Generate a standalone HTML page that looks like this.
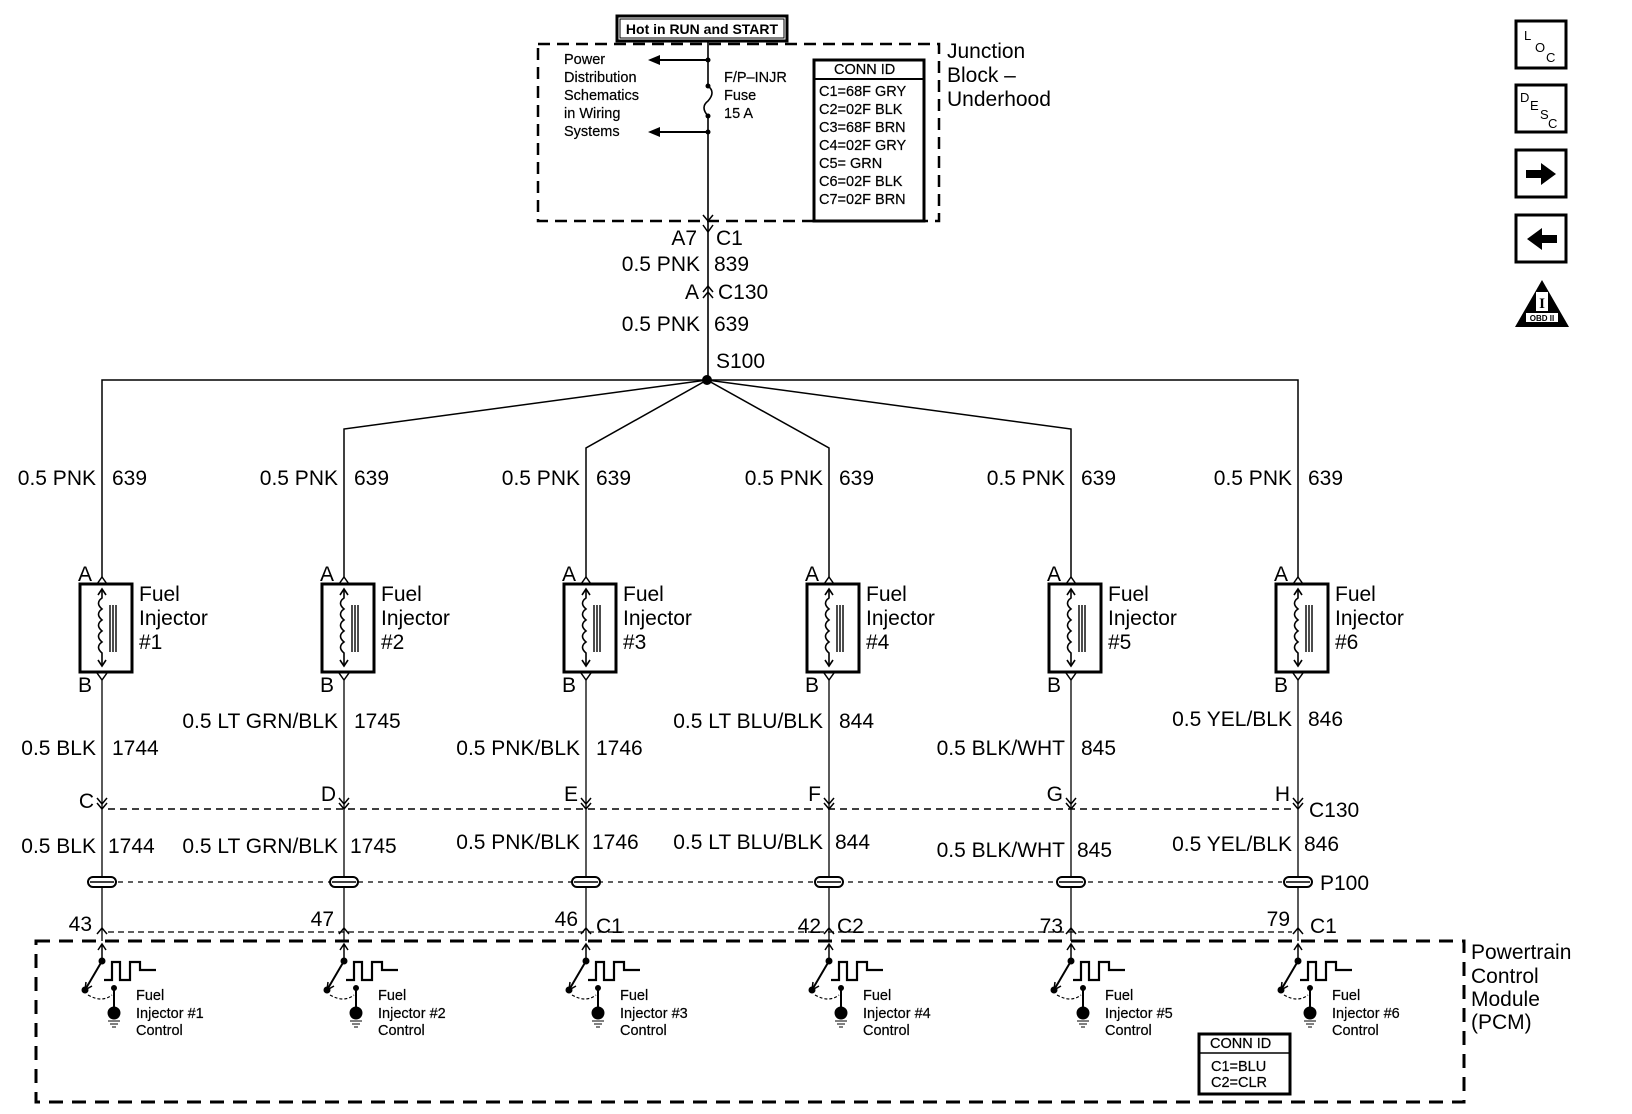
<!DOCTYPE html>
<html><head><meta charset="utf-8"><style>
html,body{margin:0;padding:0;background:#fff;}
svg{display:block;font-family:"Liberation Sans",sans-serif;}
.t{font-size:21px;fill:#000;}
.s{font-size:14.5px;fill:#000;stroke:#000;stroke-width:0.2;}
.m{font-size:21px;fill:#000;}
</style></head><body>
<svg width="1632" height="1114" viewBox="0 0 1632 1114" xmlns="http://www.w3.org/2000/svg">
<defs>
<g id="inj" fill="none" stroke="#000">
<rect x="-22" y="584" width="52" height="88" stroke-width="3"/>
<path d="M0,590 L0,598 q-7,5 0,11 q-7,5 0,11 q-7,5 0,11 q-7,5 0,11 q-7,5 0,11 L0,666" stroke-width="1.6"/>
<path d="M-4,595 L0,589 L4,595 M-4,660 L0,666 L4,660" stroke-width="1.6"/>
<path d="M8,605 V652 M11,605 V652 M14,605 V652" stroke-width="1.4"/>
<path d="M-5,584 L0,577 L5,584 M-5,673 L0,680 L5,673" stroke-width="1.5"/>
<path d="M0,680 V941" stroke-width="1.3"/>
<path d="M-5,798 L0,804 L5,798 M-5,803 L0,809 L5,803" stroke-width="1.5"/>
<rect x="-14" y="877" width="28" height="10" rx="5" fill="#fff" stroke-width="2"/>
<path d="M-12,882 H12" stroke-width="1.5"/>
<path d="M-5,934 L0,928 L5,934" stroke-width="1.5"/>
<path d="M0,944 V960 M-4,950 L0,944 L4,950" stroke-width="1.5"/>
<circle cx="0" cy="961" r="3" fill="#000"/>
<path d="M0,961 L-17,990" stroke-width="2"/>
<path d="M-16,982 L-17,990 L-10,986" stroke-width="1.5"/>
<circle cx="-17" cy="990" r="3" fill="#000"/>
<path d="M-14,995 Q0,1003 10,995" stroke-width="1.2" stroke-dasharray="3,2"/>
<path d="M12,988 V1008" stroke-width="2"/>
<circle cx="12" cy="988" r="2.5" fill="#000"/>
<circle cx="12" cy="1013" r="6" fill="#000"/>
<path d="M6,1021 H18 M8,1024 H16 M10,1027 H14" stroke-width="1"/>
<path d="M2,980 L10,980 L10,962 L18,962 L18,980 L28,980 L28,962 L38,962 L38,970 L54,970" stroke-width="2.2"/>
</g>
</defs>

<!-- top section -->
<rect x="617" y="16" width="170" height="25" fill="none" stroke="#000" stroke-width="3"/>
<rect x="620" y="19" width="164" height="19" fill="none" stroke="#000" stroke-width="1"/>
<text x="702" y="34" font-size="14" text-anchor="middle" font-weight="bold">Hot in RUN and START</text>
<rect x="538" y="44" width="401" height="177" fill="none" stroke="#000" stroke-width="2.5" stroke-dasharray="12,7"/>
<path d="M708,41 V86 M708,116 V232" stroke="#000" stroke-width="1.6" fill="none"/>
<path d="M708,86 q8,6 0,15 q-8,6 0,15" stroke="#000" stroke-width="1.6" fill="none"/>
<circle cx="708" cy="60" r="2.5"/><circle cx="708" cy="86" r="2.5"/><circle cx="708" cy="116" r="2.5"/><circle cx="708" cy="132" r="2.5"/>
<path d="M708,60 H656 M708,132 H656" stroke="#000" stroke-width="2"/>
<path d="M648,60 L660,55 L660,65 Z M648,132 L660,127 L660,137 Z"/>
<text class="s"><tspan x="564" y="64">Power</tspan><tspan x="564" y="82">Distribution</tspan><tspan x="564" y="100">Schematics</tspan><tspan x="564" y="118">in Wiring</tspan><tspan x="564" y="136">Systems</tspan></text>
<text class="s"><tspan x="724" y="82">F/P–INJR</tspan><tspan x="724" y="100">Fuse</tspan><tspan x="724" y="118">15 A</tspan></text>
<rect x="814" y="60" width="110" height="161" fill="none" stroke="#000" stroke-width="3"/>
<path d="M814,79 H924" stroke="#000" stroke-width="2"/>
<text class="s"><tspan x="834" y="74">CONN ID</tspan><tspan x="819" y="96">C1=68F GRY</tspan><tspan x="819" y="114">C2=02F BLK</tspan><tspan x="819" y="132">C3=68F BRN</tspan><tspan x="819" y="150">C4=02F GRY</tspan><tspan x="819" y="168">C5=    GRN</tspan><tspan x="819" y="186">C6=02F BLK</tspan><tspan x="819" y="204">C7=02F BRN</tspan></text>
<text class="m"><tspan x="947" y="58">Junction</tspan><tspan x="947" y="82">Block –</tspan><tspan x="947" y="106">Underhood</tspan></text>
<path d="M703,215 L708,221 L713,215 M703,225 L708,232 L713,225" stroke="#000" stroke-width="1.5" fill="none"/>
<path d="M708,232 V381" stroke="#000" stroke-width="1.6"/>
<path d="M703,292 L708,286 L713,292 M703,298 L708,292 L713,298" stroke="#000" stroke-width="1.5" fill="none"/>
<text class="t" x="697" y="245" text-anchor="end">A7</text><text class="t" x="716" y="245">C1</text>
<text class="t" x="700" y="271" text-anchor="end">0.5 PNK</text><text class="t" x="714" y="271">839</text>
<text class="t" x="699" y="299" text-anchor="end">A</text><text class="t" x="718" y="299">C130</text>
<text class="t" x="700" y="331" text-anchor="end">0.5 PNK</text><text class="t" x="714" y="331">639</text>
<text class="t" x="716" y="368">S100</text>
<circle cx="707" cy="380" r="5"/>

<!-- branches -->
<g stroke="#000" stroke-width="1.5" fill="none">
<path d="M102,577 V380 H1298 V577"/>
<path d="M707,380 L344,429 V577"/>
<path d="M707,380 L586,448 V577"/>
<path d="M707,380 L829,448 V577"/>
<path d="M707,380 L1071,429 V577"/>
</g>

<!-- dashed connector lines -->
<path d="M108,809 H1292" stroke="#000" stroke-width="1.5" stroke-dasharray="7,5"/>
<path d="M118,882 H1282" stroke="#000" stroke-width="1.2" stroke-dasharray="5,5"/>
<path d="M108,932 H1292" stroke="#000" stroke-width="1.2" stroke-dasharray="6,4"/>
<rect x="36" y="941" width="1428" height="161" fill="none" stroke="#000" stroke-width="3" stroke-dasharray="14,9"/>

<use href="#inj" x="102"/><use href="#inj" x="344"/><use href="#inj" x="586"/>
<use href="#inj" x="829"/><use href="#inj" x="1071"/><use href="#inj" x="1298"/>

<!-- injector labels -->
<g class="t">
<text x="96" y="485" text-anchor="end">0.5 PNK</text><text x="112" y="485">639</text>
<text x="338" y="485" text-anchor="end">0.5 PNK</text><text x="354" y="485">639</text>
<text x="580" y="485" text-anchor="end">0.5 PNK</text><text x="596" y="485">639</text>
<text x="823" y="485" text-anchor="end">0.5 PNK</text><text x="839" y="485">639</text>
<text x="1065" y="485" text-anchor="end">0.5 PNK</text><text x="1081" y="485">639</text>
<text x="1292" y="485" text-anchor="end">0.5 PNK</text><text x="1308" y="485">639</text>
</g>
<g class="m">
<text x="139" y="601">Fuel</text><text x="139" y="625">Injector</text><text x="139" y="649">#1</text>
<text x="381" y="601">Fuel</text><text x="381" y="625">Injector</text><text x="381" y="649">#2</text>
<text x="623" y="601">Fuel</text><text x="623" y="625">Injector</text><text x="623" y="649">#3</text>
<text x="866" y="601">Fuel</text><text x="866" y="625">Injector</text><text x="866" y="649">#4</text>
<text x="1108" y="601">Fuel</text><text x="1108" y="625">Injector</text><text x="1108" y="649">#5</text>
<text x="1335" y="601">Fuel</text><text x="1335" y="625">Injector</text><text x="1335" y="649">#6</text>
</g>
<g class="t">
<text x="92" y="581" text-anchor="end">A</text><text x="92" y="692" text-anchor="end">B</text>
<text x="334" y="581" text-anchor="end">A</text><text x="334" y="692" text-anchor="end">B</text>
<text x="576" y="581" text-anchor="end">A</text><text x="576" y="692" text-anchor="end">B</text>
<text x="819" y="581" text-anchor="end">A</text><text x="819" y="692" text-anchor="end">B</text>
<text x="1061" y="581" text-anchor="end">A</text><text x="1061" y="692" text-anchor="end">B</text>
<text x="1288" y="581" text-anchor="end">A</text><text x="1288" y="692" text-anchor="end">B</text>

<text x="96" y="755" text-anchor="end">0.5 BLK</text><text x="112" y="755">1744</text>
<text x="338" y="728" text-anchor="end">0.5 LT GRN/BLK</text><text x="354" y="728">1745</text>
<text x="580" y="755" text-anchor="end">0.5 PNK/BLK</text><text x="596" y="755">1746</text>
<text x="823" y="728" text-anchor="end">0.5 LT BLU/BLK</text><text x="839" y="728">844</text>
<text x="1065" y="755" text-anchor="end">0.5 BLK/WHT</text><text x="1081" y="755">845</text>
<text x="1292" y="726" text-anchor="end">0.5 YEL/BLK</text><text x="1308" y="726">846</text>

<text x="94" y="808" text-anchor="end">C</text>
<text x="336" y="801" text-anchor="end">D</text>
<text x="578" y="801" text-anchor="end">E</text>
<text x="821" y="801" text-anchor="end">F</text>
<text x="1063" y="801" text-anchor="end">G</text>
<text x="1290" y="801" text-anchor="end">H</text>
<text x="1309" y="817">C130</text>

<text x="96" y="853" text-anchor="end">0.5 BLK</text><text x="108" y="853">1744</text>
<text x="338" y="853" text-anchor="end">0.5 LT GRN/BLK</text><text x="350" y="853">1745</text>
<text x="580" y="849" text-anchor="end">0.5 PNK/BLK</text><text x="592" y="849">1746</text>
<text x="823" y="849" text-anchor="end">0.5 LT BLU/BLK</text><text x="835" y="849">844</text>
<text x="1065" y="857" text-anchor="end">0.5 BLK/WHT</text><text x="1077" y="857">845</text>
<text x="1292" y="851" text-anchor="end">0.5 YEL/BLK</text><text x="1304" y="851">846</text>
<text x="1320" y="890">P100</text>

<text x="92" y="931" text-anchor="end">43</text>
<text x="334" y="926" text-anchor="end">47</text>
<text x="578" y="926" text-anchor="end">46</text><text x="596" y="933">C1</text>
<text x="821" y="933" text-anchor="end">42</text><text x="837" y="933">C2</text>
<text x="1063" y="933" text-anchor="end">73</text>
<text x="1290" y="926" text-anchor="end">79</text><text x="1310" y="933">C1</text>
</g>
<g class="s">
<text x="136" y="1000">Fuel</text><text x="136" y="1018">Injector #1</text><text x="136" y="1035">Control</text>
<text x="378" y="1000">Fuel</text><text x="378" y="1018">Injector #2</text><text x="378" y="1035">Control</text>
<text x="620" y="1000">Fuel</text><text x="620" y="1018">Injector #3</text><text x="620" y="1035">Control</text>
<text x="863" y="1000">Fuel</text><text x="863" y="1018">Injector #4</text><text x="863" y="1035">Control</text>
<text x="1105" y="1000">Fuel</text><text x="1105" y="1018">Injector #5</text><text x="1105" y="1035">Control</text>
<text x="1332" y="1000">Fuel</text><text x="1332" y="1018">Injector #6</text><text x="1332" y="1035">Control</text>
</g>
<text class="m"><tspan x="1471" y="959">Powertrain</tspan><tspan x="1471" y="983">Control</tspan><tspan x="1471" y="1006">Module</tspan><tspan x="1471" y="1029">(PCM)</tspan></text>
<rect x="1199" y="1034" width="91" height="60" fill="#fff" stroke="#000" stroke-width="3"/>
<path d="M1199,1053 H1290" stroke="#000" stroke-width="1.5"/>
<text class="s"><tspan x="1210" y="1048">CONN ID</tspan><tspan x="1211" y="1071">C1=BLU</tspan><tspan x="1211" y="1087">C2=CLR</tspan></text>

<!-- icons -->
<g fill="none" stroke="#000" stroke-width="3">
<rect x="1516" y="21" width="50" height="47"/>
<rect x="1516" y="85" width="50" height="47"/>
<rect x="1516" y="150" width="50" height="47"/>
<rect x="1516" y="215" width="50" height="47"/>
</g>
<text x="1524" y="40" font-size="13">L</text><text x="1535" y="52" font-size="13">O</text><text x="1546" y="62" font-size="13">C</text>
<text x="1520" y="102" font-size="13">D</text><text x="1530" y="110" font-size="13">E</text><text x="1540" y="119" font-size="13">S</text><text x="1548" y="128" font-size="13">C</text>
<path d="M1526,170 H1541 V163 L1556,174 L1541,185 V178 H1526 Z"/>
<path d="M1557,235 H1542 V228 L1527,239 L1542,250 V243 H1557 Z"/>
<path d="M1542,280 L1569,327 L1515,327 Z"/>
<rect x="1526" y="313" width="32" height="9" fill="#fff"/>
<text x="1542" y="321" font-size="8" text-anchor="middle" font-weight="bold">OBD II</text>
<rect x="1536" y="292" width="12" height="19" fill="#fff"/>
<text x="1542" y="308" font-size="15" text-anchor="middle" font-weight="bold" font-family="Liberation Serif">I</text>
</svg>
</body></html>
